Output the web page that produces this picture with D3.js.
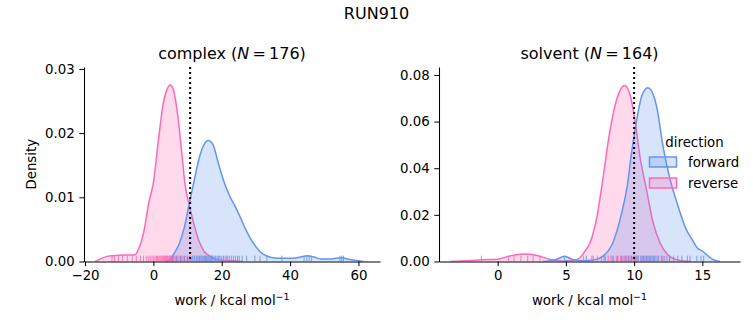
<!DOCTYPE html>
<html><head><meta charset="utf-8">
<script src="https://cdn.jsdelivr.net/npm/d3@7"></script>
<style>
body{margin:0;background:#fff}
svg{display:block}
text{font-family:"DejaVu Sans",sans-serif;fill:#000}
</style>
</head><body>
<svg id="chart" width="753" height="325"></svg>
<script>
// ---------------- data ----------------
const suptitle = "RUN910";
const directions = ["forward", "reverse"];
const dirColors = ["#6495ED", "#FF69B4"];

// complex phase: KDE curves (work in kcal/mol, density)
const complexForwardWork = [3.5, 5.0, 6.0, 7.5, 9.0, 10.4, 11.9, 13.2, 14.6, 15.4, 16.1, 16.9, 17.6, 19.0, 21.0, 22.5, 24.0, 25.5, 27.0, 28.5, 30.0, 31.5, 33.0, 35.0, 38.0, 41.0, 43.0, 45.0, 47.0, 49.0, 52.0, 55.0, 57.5, 60.0, 61.5];
const complexForwardDens = [0, 0.0004, 0.0012, 0.0027, 0.0052, 0.0088, 0.0125, 0.0157, 0.0180, 0.0187, 0.01885, 0.0186, 0.0180, 0.0153, 0.0119, 0.0100, 0.0085, 0.0068, 0.0050, 0.0035, 0.0023, 0.0014, 0.0009, 0.0006, 0.0005, 0.0005, 0.0007, 0.0009, 0.0007, 0.0004, 0.0004, 0.0006, 0.0003, 0.0001, 0];
const complexReverseWork = [-17.0, -15.9, -13.5, -11.5, -8.5, -5.6, -4.2, -2.7, -1.3, 0.0, 1.5, 2.9, 3.9, 4.9, 5.7, 6.3, 7.3, 8.3, 9.3, 10.4, 11.9, 13.4, 14.8, 16.3, 18.0, 20.0, 23.0, 26.0];
const complexReverseDens = [0, 0.0003, 0.0008, 0.0009, 0.0010, 0.0010, 0.0021, 0.0049, 0.0093, 0.0123, 0.0190, 0.0247, 0.0267, 0.0275, 0.0270, 0.0257, 0.0220, 0.0169, 0.0119, 0.0090, 0.0058, 0.0031, 0.0016, 0.0009, 0.0004, 0.0002, 0.0001, 0];
const complexForwardRug = [5.5, 6.8, 8.0, 9.1, 10.0, 10.8, 11.5, 12.1, 12.6, 13.1, 13.5, 13.9, 14.3, 14.7, 15.0, 15.3, 15.6, 15.9, 16.2, 16.5, 16.8, 17.1, 17.4, 17.8, 18.2, 18.6, 19.0, 19.5, 20.0, 20.5, 21.0, 21.6, 22.2, 22.8, 23.4, 24.0, 24.6, 25.1, 26.0, 27.3, 29.7, 31.2, 33.2, 37.6, 44.1, 44.9, 45.6, 46.3, 54.6, 55.1, 55.6];
const complexReverseRug = [-12.1, -11.4, -10.2, -9.0, -7.6, -6.2, -5.0, -3.8, -2.9, -2.1, -1.5, -0.9, -0.4, 0.1, 0.5, 0.9, 1.2, 1.6, 1.9, 2.2, 2.5, 2.8, 3.0, 3.3, 3.5, 3.8, 4.0, 4.2, 4.5, 4.7, 4.9, 5.1, 5.3, 5.6, 5.8, 6.0, 6.3, 6.6, 6.9, 7.2, 7.5, 7.9, 8.3, 8.7, 9.2, 9.8, 10.4, 11.1, 11.9, 12.8, 14.0, 15.3, 17.0, 19.2, 21.5];
const complexEstimate = 10.75;

// solvent phase
const solventForwardWork = [3.3, 4.3, 4.9, 5.5, 6.3, 7.0, 7.7, 8.4, 9.0, 9.5, 9.8, 10.2, 10.56, 11.0, 11.4, 11.7, 12.1, 12.6, 13.1, 13.8, 14.3, 14.6, 15.0, 15.3, 15.8, 16.3];
const solventForwardDens = [0, 0.0009, 0.0022, 0.0009, 0.0003, 0.0006, 0.0022, 0.0075, 0.0187, 0.0325, 0.0460, 0.0610, 0.0710, 0.0745, 0.0716, 0.0650, 0.0500, 0.0360, 0.0260, 0.0140, 0.0090, 0.0060, 0.0045, 0.0030, 0.0008, 0];
const solventReverseWork = [-3.5, -2.0, -1.2, 0.0, 0.9, 1.9, 2.9, 3.8, 4.8, 5.5, 6.0, 6.4, 6.8, 7.3, 7.7, 8.2, 8.7, 9.3, 9.7, 10.07, 10.4, 10.9, 11.4, 11.9, 12.4, 12.9, 13.5, 14.2];
const solventReverseDens = [0, 0.0004, 0.0007, 0.0010, 0.0024, 0.0032, 0.0026, 0.0010, 0.0002, 0.0004, 0.0015, 0.0045, 0.0085, 0.0200, 0.0350, 0.0550, 0.0690, 0.0755, 0.0715, 0.0603, 0.0460, 0.0310, 0.0165, 0.0080, 0.0033, 0.0012, 0.0003, 0];
const solventForwardRug = [4.9, 6.5, 7.0, 7.8, 8.4, 8.8, 9.1, 9.4, 9.6, 9.8, 10.0, 10.2, 10.3, 10.5, 10.6, 10.7, 10.8, 10.9, 11.0, 11.1, 11.2, 11.3, 11.4, 11.5, 11.6, 11.8, 12.0, 12.2, 12.4, 12.6, 12.9, 13.2, 13.5, 13.9, 14.1, 14.6, 14.9, 15.1];
const solventReverseRug = [-1.2, 0.8, 1.2, 1.7, 2.2, 2.6, 3.1, 6.3, 6.9, 7.3, 7.6, 7.9, 8.1, 8.3, 8.5, 8.7, 8.8, 9.0, 9.1, 9.2, 9.3, 9.4, 9.5, 9.6, 9.7, 9.8, 9.9, 10.0, 10.1, 10.2, 10.3, 10.5, 10.7, 10.9, 11.1, 11.4, 11.7, 12.1, 12.6];
const solventEstimate = 10.0;

const complexXTicks = [-20, 0, 20, 40, 60];
const complexYTicks = [0, 0.01, 0.02, 0.03];
const solventXTicks = [0, 5, 10, 15];
const solventYTicks = [0, 0.02, 0.04, 0.06, 0.08];

// ---------------- layout ----------------
const svg = d3.select("#chart");
const FS = 13.33;

svg.append("text").attr("x", 376.5).attr("y", 19).attr("text-anchor", "middle")
  .style("font-size", "16px").text(suptitle);

const panels = [
  {name: "complex", n: 176, x0: 84, x1: 380, xdom: [-20.3, 66.3], ydom: [0, 0.0303],
   xticks: complexXTicks, yticks: complexYTicks, est: complexEstimate, ylabel: "Density",
   series: [
     {work: complexForwardWork, dens: complexForwardDens, rug: complexForwardRug},
     {work: complexReverseWork, dens: complexReverseDens, rug: complexReverseRug}]},
  {name: "solvent", n: 164, x0: 439, x1: 740, xdom: [-4.3, 17.76], ydom: [0, 0.0834],
   xticks: solventXTicks, yticks: solventYTicks, est: solventEstimate, ylabel: null, legend: true,
   series: [
     {work: solventForwardWork, dens: solventForwardDens, rug: solventForwardRug},
     {work: solventReverseWork, dens: solventReverseDens, rug: solventReverseRug}]}
];
const yTop = 67, yBot = 261.5;

panels.forEach(p => {
  const g = svg.append("g");
  const x = d3.scaleLinear().domain(p.xdom).range([p.x0, p.x1]);
  const y = d3.scaleLinear().domain(p.ydom).range([yBot, yTop]);
  const clipId = "clip-" + p.name;
  svg.append("clipPath").attr("id", clipId).append("rect")
    .attr("x", p.x0).attr("y", yTop - 2).attr("width", p.x1 - p.x0).attr("height", yBot - yTop + 2);
  const plot = g.append("g").attr("clip-path", `url(#${clipId})`);

  // draw reverse first, forward on top (seaborn order)
  [1, 0].forEach(i => {
    const s = p.series[i];
    const pts = s.work.map((w, k) => [w, s.dens[k]]);
    const col = dirColors[i];
    plot.append("path").datum(pts)
      .attr("d", d3.area().x(d => x(d[0])).y0(y(0)).y1(d => y(d[1])).curve(d3.curveMonotoneX))
      .attr("fill", col).attr("fill-opacity", 0.25).attr("stroke", "none");
    plot.append("path").datum(pts)
      .attr("d", d3.line().x(d => x(d[0])).y(d => y(d[1])).curve(d3.curveMonotoneX))
      .attr("fill", "none").attr("stroke", col).attr("stroke-width", 1.5);
  });
  // rugs
  [1, 0].forEach(i => {
    const s = p.series[i];
    plot.append("g").selectAll("line").data(s.rug).join("line")
      .attr("x1", d => x(d)).attr("x2", d => x(d))
      .attr("y1", yBot).attr("y2", yBot - (yBot - yTop) * 0.03)
      .attr("stroke", dirColors[i]).attr("stroke-width", 1).attr("stroke-opacity", 0.85);
  });
  // estimate line
  g.append("line").attr("x1", x(p.est)).attr("x2", x(p.est)).attr("y1", yTop).attr("y2", yBot)
    .attr("stroke", "#000").attr("stroke-width", 2).attr("stroke-dasharray", "2,3");

  // axes
  const xa = g.append("g").attr("transform", `translate(0,${yBot})`)
    .call(d3.axisBottom(x).tickValues(p.xticks).tickSize(4.67).tickPadding(4.2).tickSizeOuter(0).tickFormat(d3.format("d")));
  const ya = g.append("g").attr("transform", `translate(${p.x0},0)`)
    .call(d3.axisLeft(y).tickValues(p.yticks).tickSize(4.67).tickPadding(4.67).tickSizeOuter(0).tickFormat(d3.format(".2f")));
  [xa, ya].forEach(a => {
    a.selectAll("text").style("font-size", FS + "px").style("font-family", '"DejaVu Sans",sans-serif').attr("fill", "#000");
    a.selectAll("line").attr("stroke", "#000").attr("stroke-width", 1);
    a.select(".domain").attr("stroke", "#000").attr("stroke-width", 1.07);
  });

  // title
  const t = g.append("text").attr("x", (p.x0 + p.x1) / 2).attr("y", 59).attr("text-anchor", "middle").style("font-size", "16px");
  t.append("tspan").text(p.name + " (");
  t.append("tspan").style("font-style", "italic").text("N");
  t.append("tspan").text("\u2009=\u2009" + p.n + ")");

  // x label
  const xl = g.append("text").attr("x", (p.x0 + p.x1) / 2).attr("y", 305).attr("text-anchor", "middle").style("font-size", FS + "px");
  xl.append("tspan").text("work / kcal mol");
  xl.append("tspan").attr("dy", -5).style("font-size", "9.5px").text("\u22121");

  if (p.ylabel) {
    g.append("text").attr("transform", `translate(36,${(yTop + yBot) / 2}) rotate(-90)`)
      .attr("text-anchor", "middle").style("font-size", FS + "px").text(p.ylabel);
  }

  if (p.legend) {
    const lg = g.append("g");
    lg.append("text").attr("x", 694.5).attr("y", 147).attr("text-anchor", "middle").style("font-size", FS + "px").text("direction");
    directions.forEach((d, i) => {
      const yy = 157 + i * 21;
      lg.append("rect").attr("x", 649.5).attr("y", yy).attr("width", 27).attr("height", 10)
        .attr("fill", dirColors[i]).attr("fill-opacity", 0.25).attr("stroke", dirColors[i]).attr("stroke-width", 1.5);
      lg.append("text").attr("x", 688).attr("y", yy + 10).style("font-size", FS + "px").text(d);
    });
  }
});
</script>
</body></html>
